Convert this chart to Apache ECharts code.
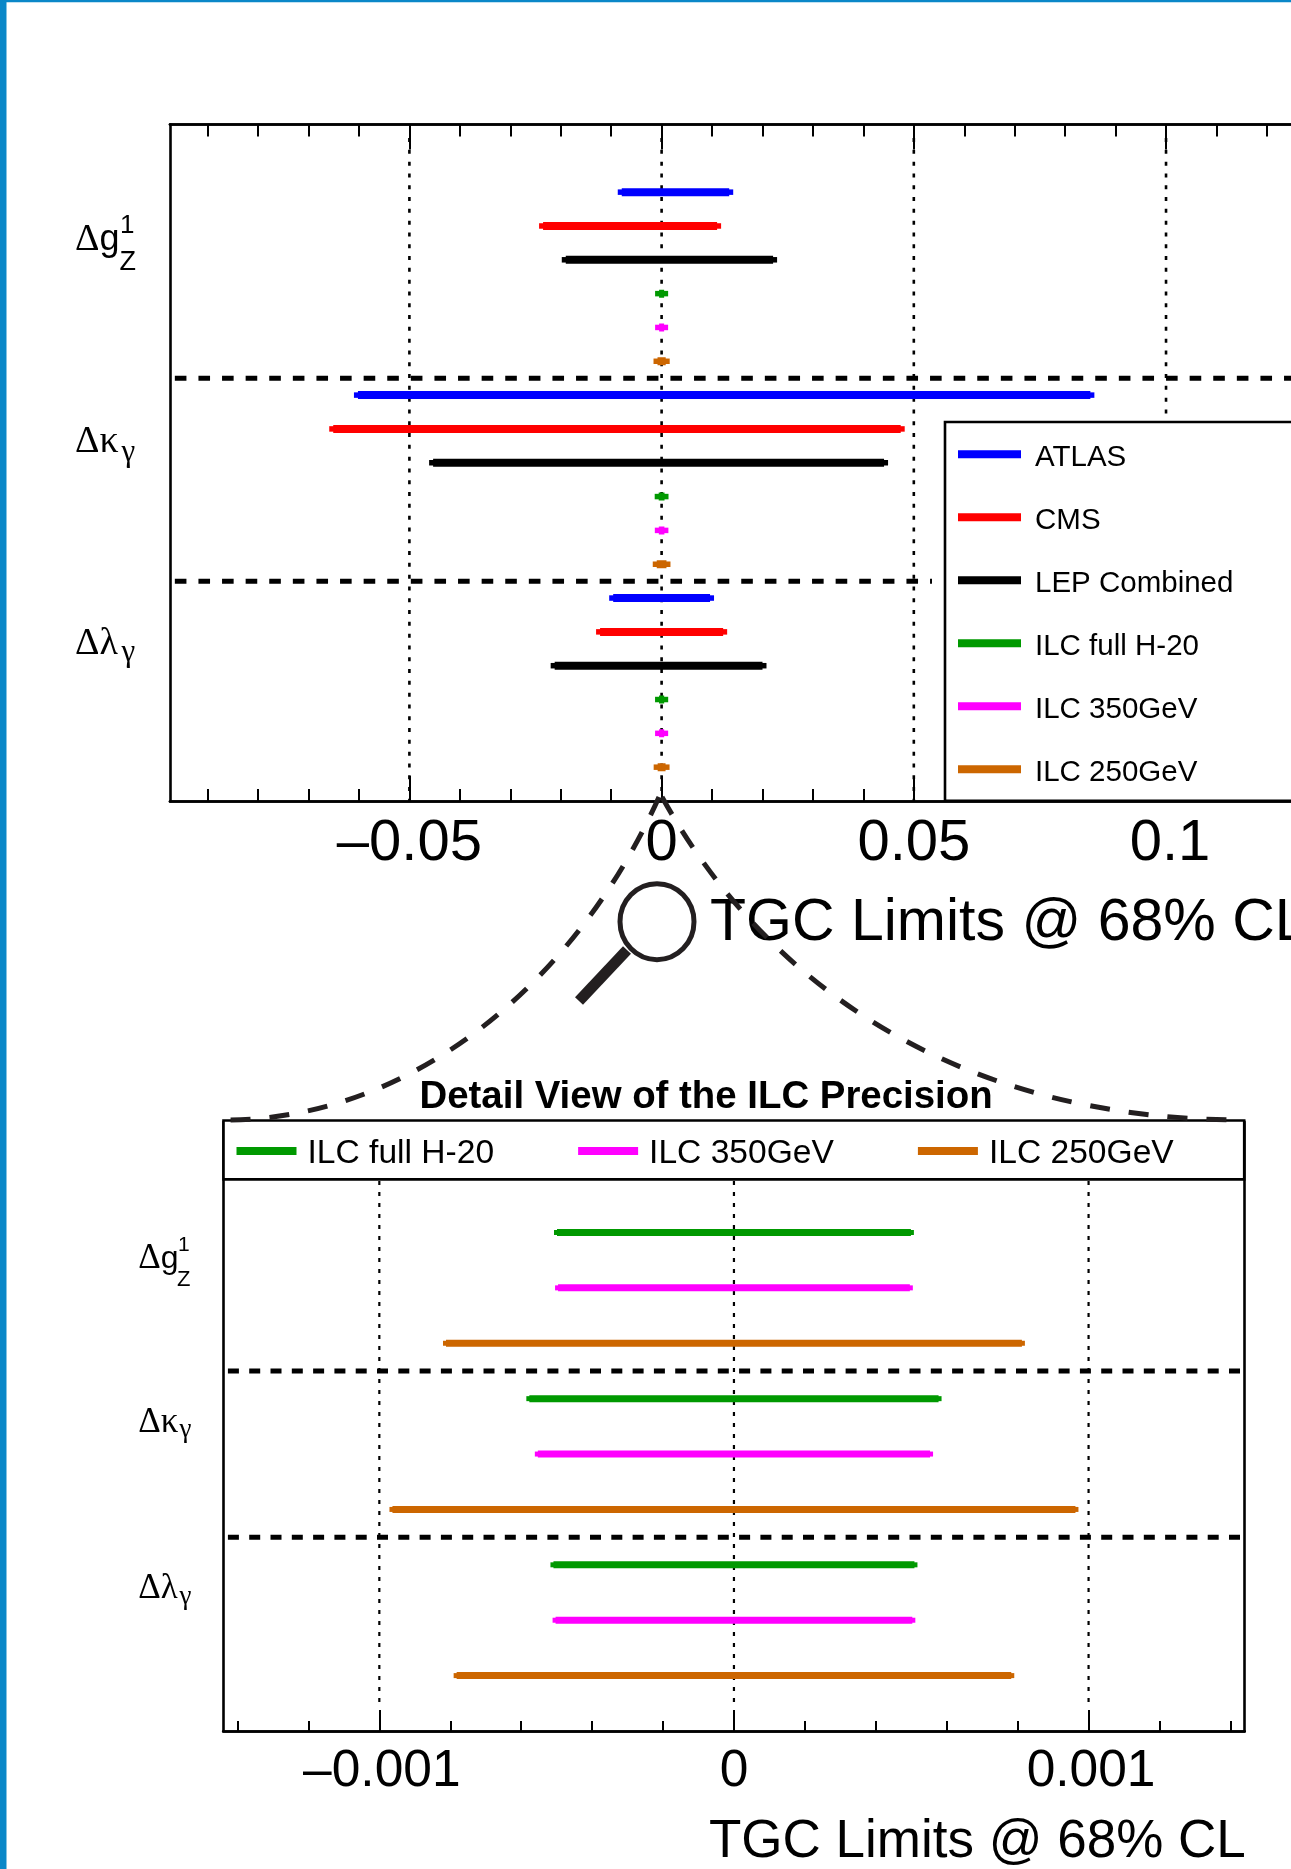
<!DOCTYPE html>
<html><head><meta charset="utf-8">
<style>html,body{margin:0;padding:0;background:#fff}#c{width:1291px;height:1869px}</style>
<script src="https://cdn.jsdelivr.net/npm/echarts@6/dist/echarts.min.js"></script>
</head><body><div id="c"></div>
<script>
// --- data ---
const experiments = ['ATLAS','CMS','LEP Combined','ILC full H-20','ILC 350GeV','ILC 250GeV'];
const ilcNames = ['ILC full H-20','ILC 350GeV','ILC 250GeV'];
const colors = {'ATLAS':'#0000ff','CMS':'#ff0000','LEP Combined':'#000000','ILC full H-20':'#009900','ILC 350GeV':'#ff00ff','ILC 250GeV':'#cc6600'};
// [low, high] for dg1Z, dkappa, dlambda
const atlasLimits = [[-0.0079,0.0134],[-0.0602,0.0850],[-0.0096,0.0096]];
const cmsLimits   = [[-0.0235,0.0110],[-0.0651,0.0474],[-0.0122,0.0122]];
const lepLimits   = [[-0.0190,0.0221],[-0.0453,0.0441],[-0.0212,0.0200]];
const ilcFullLimits = [[-0.000499,0.000499],[-0.000577,0.000577],[-0.000509,0.000509]];
const ilc350Limits  = [[-0.000496,0.000496],[-0.000553,0.000553],[-0.000503,0.000503]];
const ilc250Limits  = [[-0.000812,0.000812],[-0.000963,0.000963],[-0.000782,0.000782]];
// upper panel axis
const upperMajor = [-0.05,0,0.05,0.1];
const upperMajorLabels = ['\u20130.05','0','0.05','0.1'];
const upperLabelStyle = ['n','n','n','r'];
const upperMinor = [-0.09,-0.08,-0.07,-0.06,-0.04,-0.03,-0.02,-0.01,0.01,0.02,0.03,0.04,0.06,0.07,0.08,0.09,0.11,0.12,0.13];
const upperRange = [-0.09746,0.14];
const upperDotted = [-0.05,0,0.05,0.1];
const upperRows = [[2,3,4,5,6,7],[8,9,10,11,12,13],[14,15,16,17,18,19]];
// lower panel axis
const lowerMajor = [-0.001,0,0.001];
const lowerMajorLabels = ['\u20130.001','0','0.001'];
const lowerLabelStyle = ['r','n','r'];
const lowerMinor = [-0.0014,-0.0012,-0.0008,-0.0006,-0.0004,-0.0002,0.0002,0.0004,0.0006,0.0008,0.0012,0.0014];
const lowerRange = [-0.00144,0.00144];
const lowerRows = [[2,3,4],[5,6,7],[8,9,10]];
// row labels
const upperLabelRows = [3.42,9.38,15.37];
const lowerLabelRows = [2.48,5.44,8.43];
const rowLabels = ['{d|\u0394}{s|g}','{d|\u0394\u03ba}','{d|\u0394\u03bb}'];
const axisTitle = 'TGC Limits @ 68% CL';
const detailTitle = 'Detail View of the ILC Precision';

const FONT='Liberation Sans', SERIF='Liberation Serif';
function bars(limits,rowIdx){
  const out=[];
  limits.forEach((l,i)=>{const k=rowIdx[i];out.push([l[0],k],[l[1],k],['-','-']);});
  return out;
}
function lineSeries(name,data,gridIdx,width,z,color,extra){
  return Object.assign({type:'line',name,data,xAxisIndex:gridIdx?4:0,yAxisIndex:gridIdx?1:0,
    symbol:'none',showSymbol:false,clip:false,silent:true,connectNulls:false,animation:false,z,
    color,itemStyle:{color},lineStyle:{color,width,cap:'butt'}},extra||{});
}
function vguides(vals,k0,k1){const o=[];vals.forEach(v=>o.push([v,k0],[v,k1],['-','-']));return o;}
function hguides(list){const o=[];list.forEach(s=>o.push([s[0],s[2]],[s[1],s[2]],['-','-']));return o;}

const allLimits=[atlasLimits,cmsLimits,lepLimits,ilcFullLimits,ilc350Limits,ilc250Limits];
const series=[];
series.push(lineSeries('dotted-upper',vguides(upperDotted,0.4,20),0,2.6,1,'#000',{lineStyle:{color:'#000',width:2.6,type:[4,7.8],cap:'butt'}}));
series.push(lineSeries('dashed-upper',hguides([[-0.0965,0.14,7.5],[-0.0965,0.0536,13.5]]),0,5,2,'#000',{lineStyle:{color:'#000',width:5,type:[11.6,12],cap:'butt'}}));
experiments.forEach((n,e)=>{
  const idx=[0,1,2].map(i=>upperRows[i][e]);
  series.push(lineSeries(n,bars(allLimits[e],idx),0,8,3,colors[n],{symbol:'rect',symbolSize:[8,5.5],showSymbol:true,showAllSymbol:true}));
});
series.push(lineSeries('dotted-lower',vguides(lowerMajor,1.07,10.6),1,2.2,1,'#000',{lineStyle:{color:'#000',width:2.2,type:[4,7],cap:'butt'}}));
series.push(lineSeries('dashed-lower',hguides([[-0.001427,0.00143,4.5],[-0.001427,0.00143,7.5]]),1,5,2,'#000',{lineStyle:{color:'#000',width:5,type:[11,10.3],cap:'butt'}}));
ilcNames.forEach((n,e)=>{
  const idx=[0,1,2].map(i=>lowerRows[i][e]);
  series.push(lineSeries(n,bars(allLimits[e+3],idx),1,7,3,colors[n],{symbol:'rect',symbolSize:[6,5],showSymbol:true,showAllSymbol:true}));
});

const axisLine={show:true,onZero:false,lineStyle:{color:'#000',width:2.6}};
function xAxis(grid,pos,range,vals,len,labels,styles,fontSize,margin,pad){
  const base={fontFamily:FONT,fontSize,color:'#000'};
  return {type:'value',gridIndex:grid,position:pos,min:range[0],max:range[1],
    axisLine,splitLine:{show:false},minorTick:{show:false},
    axisTick:{show:true,inside:true,length:len,customValues:vals,lineStyle:{color:'#000',width:2}},
    axisLabel: labels?{show:true,customValues:vals,margin,fontFamily:FONT,fontSize,color:'#000',
      rich:{n:base,r:Object.assign({padding:[0,0,0,pad]},base)},
      formatter:v=>{const i=vals.indexOf(v);return '{'+styles[i]+'|'+labels[i]+'}';}}:{show:false}};
}
function yAxis(grid,pos,max,rows,rich,margin){
  return {type:'value',gridIndex:grid,position:pos,inverse:true,min:0,max,
    axisLine,axisTick:{show:false},splitLine:{show:false},
    axisLabel: rows?{show:true,customValues:rows,margin,align:'left',color:'#000',rich,
      formatter:v=>rowLabels[rows.indexOf(v)]}:{show:false}};
}
function legend(data,opt){
  return Object.assign({show:true,data:data.map(n=>({name:n})),icon:'rect',selectedMode:false,
    backgroundColor:'#fff',borderColor:'#000',borderWidth:2.6,borderRadius:0,z:4,inactiveColor:'#000',
    formatter:n=>'{t|'+n+'}'},opt);
}
const graphics=[
  {type:'rect',shape:{x:0,y:0,width:1291,height:2.3},style:{fill:'#0a87c8'},z:200},
  {type:'rect',shape:{x:0,y:0,width:6.5,height:1869},style:{fill:'#0a87c8'},z:200},
  {type:'bezierCurve',shape:{x1:659,y1:797,cpx1:575,cpy1:985,cpx2:410,cpy2:1120,x2:225,y2:1120},
    style:{stroke:'#231f20',lineWidth:5,lineDash:[20,19],fill:null},z:100},
  {type:'bezierCurve',shape:{x1:662,y1:797,cpx1:767,cpy1:987,cpx2:960,cpy2:1120,x2:1244,y2:1120},
    style:{stroke:'#231f20',lineWidth:5,lineDash:[20,19],fill:null},z:100},
  {type:'ellipse',shape:{cx:657,cy:921.7,rx:37,ry:38},style:{stroke:'#231f20',lineWidth:5,fill:'#fff'},z:101},
  {type:'line',shape:{x1:627,y1:950,x2:579,y2:1001},style:{stroke:'#231f20',lineWidth:11},z:101}
];
// small super/subscripts on the row labels: [text,x,centre y,size,family]
const scripts=[
 ['1',120,226,26,FONT],['Z',119.5,262.5,27,FONT],['\u03b3',121.5,453,31,SERIF],['\u03b3',121.5,653,31,SERIF],
 ['1',178,1245.5,21,FONT],['Z',177,1279.5,22,FONT],['\u03b3',179.5,1430,27,SERIF],['\u03b3',179.5,1597,27,SERIF]
];
scripts.forEach(s=>graphics.push({type:'text',x:s[1],y:s[2],z:50,
  style:{text:s[0],fontSize:s[3],fontFamily:s[4],fill:'#000',verticalAlign:'middle',align:'left'}}));

const chart=echarts.init(document.getElementById('c'),null,{renderer:'canvas'});
chart.setOption({
  animation:false,backgroundColor:'#fff',
  grid:[
    {left:170,top:124.5,width:1197.8,height:676.5,outerBoundsMode:'none'},
    {left:223.3,top:1121.7,width:1021.3,height:609.3,outerBoundsMode:'none'}
  ],
  xAxis:[
    xAxis(0,'bottom',upperRange,upperMajor,25,upperMajorLabels,upperLabelStyle,58,14,8),
    xAxis(0,'bottom',upperRange,upperMinor,12),
    xAxis(0,'top',upperRange,upperMajor,25),
    xAxis(0,'top',upperRange,upperMinor,12),
    xAxis(1,'bottom',lowerRange,lowerMajor,21,lowerMajorLabels,lowerLabelStyle,51.5,15,5),
    xAxis(1,'bottom',lowerRange,lowerMinor,10)
  ],
  yAxis:[
    yAxis(0,'left',20,upperLabelRows,{d:{fontFamily:SERIF,fontSize:38,color:'#000'},s:{fontFamily:FONT,fontSize:36,color:'#000'}},95),
    yAxis(1,'left',11,lowerLabelRows,{d:{fontFamily:SERIF,fontSize:35,color:'#000'},s:{fontFamily:FONT,fontSize:32,color:'#000'}},85),
    yAxis(1,'right',11)
  ],
  legend:[
    legend(experiments,{orient:'vertical',left:945,top:422,itemWidth:63,itemHeight:8,itemGap:33,
      padding:[20.8,420,13,13],textStyle:{fontFamily:FONT,fontSize:29.5,color:'#000',
        rich:{t:{fontFamily:FONT,fontSize:29.5,color:'#000',padding:[7,0,0,9]}}}}),
    legend(ilcNames,{orient:'horizontal',left:223.5,top:1120.5,itemWidth:60,itemHeight:8,itemGap:84,
      padding:[16,70.5,8.9,13],textStyle:{fontFamily:FONT,fontSize:33.6,color:'#000',
        rich:{t:{fontFamily:FONT,fontSize:33.6,color:'#000',padding:[5,0,0,6]}}}})
  ],
  title:[
    {text:axisTitle,left:710,top:894.5,padding:0,textStyle:{fontFamily:FONT,fontSize:59,fontWeight:'normal',color:'#000'}},
    {text:axisTitle,left:709,top:1815.5,padding:0,textStyle:{fontFamily:FONT,fontSize:53,fontWeight:'normal',color:'#000'}},
    {text:detailTitle,left:419.5,top:1078,padding:0,textStyle:{fontFamily:FONT,fontSize:38.4,fontWeight:'bold',color:'#000'}}
  ],
  series,
  graphic:graphics
});
</script></body></html>
